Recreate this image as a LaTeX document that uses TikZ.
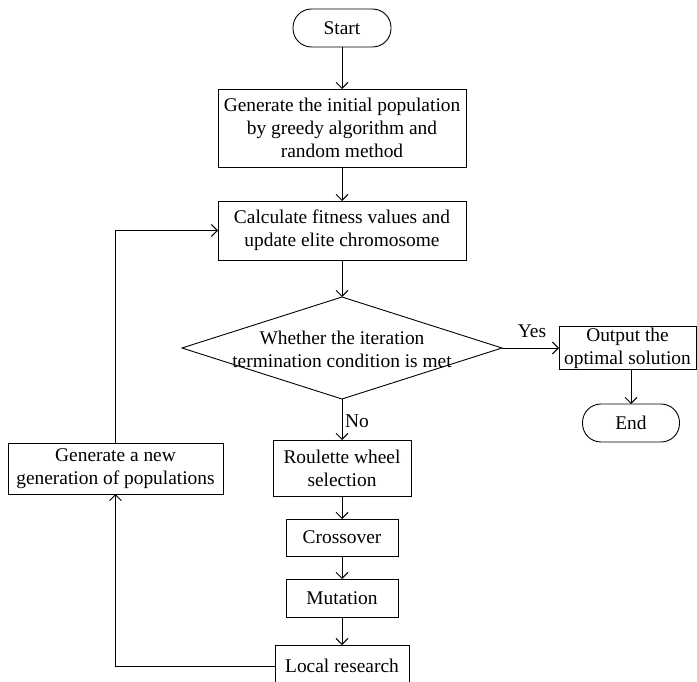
\documentclass[tikz,border=0pt]{standalone}
\usepackage{fontspec}
\setmainfont{Liberation Serif}
\usetikzlibrary{shapes.geometric,arrows.meta}
\begin{document}
\begin{tikzpicture}[x=1pt,y=-1pt,
  every node/.style={font=\fontsize{19.4}{23}\selectfont},
  box/.style={draw,rectangle,inner sep=0pt,outer sep=0pt,align=center,line width=0.9pt},
  term/.style={draw,rectangle,rounded corners=18.5pt,inner sep=0pt,outer sep=0pt,line width=0.9pt},
  lbl/.style={inner sep=0pt,align=center},
  flow/.style={line width=0.9pt,-{Straight Barb[length=6pt,width=12pt]}}]
\useasboundingbox (0,0) rectangle (697,682);
\clip (0,0) rectangle (697,682);
\node[term,minimum width=98pt,minimum height=38pt] (start) at (342,28) {Start};
\node[box,minimum width=248pt,minimum height=78pt] (init) at (342,128) {Generate the initial population\\by greedy algorithm and\\random method};
\node[box,minimum width=248pt,minimum height=59pt] (calc) at (342,230.5) {Calculate fitness values and\\update elite chromosome};
\node[draw,diamond,inner sep=0pt,outer sep=0pt,minimum width=320pt,minimum height=102pt,line width=0.9pt] (dec) at (342,348) {};
\node[lbl] (dectext) at (342,349) {Whether the iteration\\termination condition is met};
\node[box,minimum width=137pt,minimum height=43pt] (out) at (627.5,348) {Output the\\optimal solution};
\node[term,minimum width=97pt,minimum height=38pt] (end) at (631,423) {End};
\node[box,minimum width=138pt,minimum height=56pt] (roul) at (342,468) {Roulette wheel\\selection};
\node[box,minimum width=112pt,minimum height=37pt] (cross) at (342,537.5) {Crossover};
\node[box,minimum width=112pt,minimum height=38pt] (mut) at (342,598) {Mutation};
\node[box,minimum width=134pt,minimum height=42pt] (local) at (342,666) {Local research};
\node[box,minimum width=215pt,minimum height=51pt] (newgen) at (115.5,468.5) {Generate a new\\generation of populations};
\node[lbl] (yes) at (532,331) {Yes};
\node[lbl] (no) at (357,421) {No};
\draw[flow] (start) -- (init);
\draw[flow] (init) -- (calc);
\draw[flow] (calc) -- (dec);
\draw[flow] (dec) -- (out);
\draw[flow] (end.north |- out.south) -- (end.north);
\draw[flow] (dec) -- (roul);
\draw[flow] (roul) -- (cross);
\draw[flow] (cross) -- (mut);
\draw[flow] (mut) -- (local);
\draw[flow] (local.west) -| (newgen.south);
\draw[flow] (newgen.north) |- (calc.west);
\end{tikzpicture}
\end{document}
